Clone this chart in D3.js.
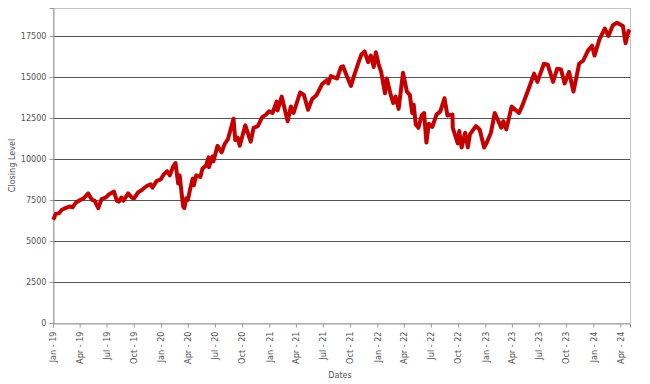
<!DOCTYPE html>
<html>
<head>
<meta charset="utf-8">
<script src="https://cdn.jsdelivr.net/npm/d3@7"></script>
<style>
  body { margin: 0; background: #fff; }
  svg text { font-family: "DejaVu Sans Condensed", "DejaVu Sans", sans-serif; fill: #555; }
</style>
</head>
<body>
<div id="viz"></div>
<script>
const margin = {top: 8, right: 20, bottom: 61, left: 53};
const width = 650;
const height = 384;

// Closing levels
const dates = [
  '2019-01-02','2019-01-10','2019-01-22','2019-01-31','2019-02-12','2019-02-25','2019-03-08','2019-03-20',
  '2019-04-03','2019-04-15','2019-04-30','2019-05-13','2019-05-22','2019-06-03','2019-06-14','2019-06-28',
  '2019-07-10','2019-07-26','2019-08-05','2019-08-12','2019-08-20','2019-08-27','2019-09-12','2019-09-24',
  '2019-10-02','2019-10-15','2019-10-31','2019-11-14','2019-11-27','2019-12-03','2019-12-17','2019-12-31',
  '2020-01-10','2020-01-22','2020-01-31','2020-02-10','2020-02-19','2020-02-28','2020-03-04','2020-03-12',
  '2020-03-16','2020-03-20','2020-03-26','2020-04-01','2020-04-09','2020-04-17','2020-04-21','2020-04-29',
  '2020-05-13','2020-05-20','2020-06-01','2020-06-10','2020-06-11','2020-06-23','2020-06-26','2020-07-10',
  '2020-07-24','2020-08-03','2020-08-14','2020-08-28','2020-09-02','2020-09-08','2020-09-16','2020-09-23',
  '2020-10-12','2020-10-30','2020-11-09','2020-11-23','2020-12-08','2020-12-21','2020-12-31','2021-01-12',
  '2021-01-26','2021-01-29','2021-02-12','2021-03-04','2021-03-15','2021-03-24','2021-04-15','2021-04-28',
  '2021-05-12','2021-05-26','2021-06-10','2021-06-28','2021-07-14','2021-07-19','2021-07-28','2021-08-18',
  '2021-08-31','2021-09-07','2021-09-20','2021-10-04','2021-10-14','2021-10-29','2021-11-08','2021-11-19',
  '2021-12-01','2021-12-10','2021-12-20','2021-12-27','2022-01-05','2022-01-14','2022-01-27','2022-02-02',
  '2022-02-14','2022-02-24','2022-03-04','2022-03-14','2022-03-29','2022-04-11','2022-04-21','2022-04-29',
  '2022-05-04','2022-05-11','2022-05-20','2022-05-31','2022-06-08','2022-06-16','2022-06-24','2022-07-06',
  '2022-07-20','2022-08-02','2022-08-16','2022-08-26','2022-09-12','2022-09-13','2022-09-30','2022-10-05',
  '2022-10-13','2022-10-25','2022-11-03','2022-11-10','2022-11-30','2022-12-13','2022-12-28','2023-01-06',
  '2023-01-20','2023-02-02','2023-02-24','2023-03-03','2023-03-13','2023-03-31','2023-04-25','2023-05-05',
  '2023-05-26','2023-06-15','2023-06-26','2023-07-18','2023-07-31','2023-08-18','2023-09-01','2023-09-14',
  '2023-09-26','2023-10-11','2023-10-26','2023-11-14','2023-11-28','2023-12-14','2023-12-28','2024-01-05',
  '2024-01-22','2024-02-09','2024-02-21','2024-03-07','2024-03-21','2024-04-10','2024-04-19','2024-04-29',
  '2024-05-03'
];
const closes = [
  6300, 6650, 6700, 6900, 7000, 7100, 7050, 7350,
  7500, 7600, 7900, 7500, 7450, 7000, 7550, 7650,
  7850, 8010, 7450, 7400, 7650, 7450, 7900, 7650,
  7600, 7950, 8150, 8350, 8450, 8250, 8650, 8750,
  9050, 9250, 9000, 9500, 9750, 8500, 9000, 7700,
  7100, 7000, 7600, 7500, 8200, 8800, 8400, 9000,
  8900, 9400, 9600, 10100, 9500, 10150, 9850, 10800,
  10400, 10900, 11200, 12100, 12450, 11150, 11300, 10800,
  12050, 11050, 11900, 12000, 12550, 12700, 12900, 12800,
  13500, 12950, 13800, 12300, 13200, 12800, 14050, 13900,
  13000, 13650, 13900, 14550, 14800, 14600, 15050, 14900,
  15600, 15650, 15050, 14450, 15050, 15850, 16350, 16550,
  15900, 16300, 15600, 16500, 15800, 15300, 14000, 14900,
  14000, 13400, 13800, 13050, 15250, 14100, 13900, 12800,
  13300, 12100, 11900, 12650, 12800, 11000, 12150, 11950,
  12700, 12900, 13700, 12650, 12700, 11900, 10950, 11700,
  10700, 11600, 10700, 11500, 12000, 11800, 10700, 11000,
  11600, 12800, 11900, 12300, 11800, 13200, 12800, 13200,
  14200, 15200, 14700, 15800, 15750, 14700, 15500, 15450,
  14600, 15300, 14100, 15800, 16000, 16600, 16900, 16300,
  17300, 17950, 17500, 18150, 18300, 18100, 17050, 17800,
  17700
];
const yTicks = [0, 2500, 5000, 7500, 10000, 12500, 15000, 17500];

const parse = d3.timeParse('%Y-%m-%d');
const series = dates.map((d, i) => ({date: parse(d), close: closes[i]}));

const x = d3.scaleTime()
  .domain([new Date(2019, 0, 1), new Date(2024, 4, 4)])
  .range([margin.left, width - margin.right]);
const y = d3.scaleLinear()
  .domain([0, 19200])
  .range([height - margin.bottom, margin.top]);

const svg = d3.select('#viz')
  .append('svg')
    .attr('width', width)
    .attr('height', height);

// plot frame
svg.append('rect')
  .attr('x', margin.left + 0.5)
  .attr('y', margin.top + 0.5)
  .attr('width', width - margin.right - margin.left)
  .attr('height', height - margin.bottom - margin.top)
  .attr('fill', 'none')
  .attr('stroke', '#c4c4c4');

// grid lines
svg.append('g')
  .selectAll('line')
  .data(yTicks.filter(d => d > 0))
  .join('line')
    .attr('x1', margin.left)
    .attr('x2', width - margin.right)
    .attr('y1', d => Math.round(y(d)) + 0.5)
    .attr('y2', d => Math.round(y(d)) + 0.5)
    .attr('stroke', '#555')
    .attr('stroke-width', 1.2);

// y axis
const yAxis = svg.append('g')
  .attr('transform', `translate(${margin.left + 0.5},0)`)
  .call(d3.axisLeft(y).tickValues(yTicks).tickFormat(d3.format('d')).tickSize(4).tickPadding(3));
yAxis.select('.domain').attr('stroke', '#999');
yAxis.selectAll('.tick line').attr('stroke', '#999');
yAxis.selectAll('text').style('font-size', '9px').attr('fill', '#555');

// x axis
const xAxis = svg.append('g')
  .attr('transform', `translate(0,${height - margin.bottom + 0.5})`)
  .call(d3.axisBottom(x)
    .ticks(d3.timeMonth.every(3))
    .tickFormat(d3.timeFormat('%b - %y'))
    .tickSize(4));
xAxis.select('.domain').attr('stroke', '#999');
xAxis.selectAll('.tick line').attr('stroke', '#999');
xAxis.selectAll('text')
  .style('font-size', '9px')
  .attr('fill', '#555')
  .attr('text-anchor', 'end')
  .attr('transform', 'rotate(-90)')
  .attr('x', -8)
  .attr('y', 0)
  .attr('dy', '0.32em');

// axis titles
svg.append('text')
  .attr('x', width / 2 + 15)
  .attr('y', 378)
  .attr('text-anchor', 'middle')
  .style('font-size', '9px')
  .text('Dates');

svg.append('text')
  .attr('transform', `translate(15,${(margin.top + height - margin.bottom) / 2}) rotate(-90)`)
  .attr('text-anchor', 'middle')
  .style('font-size', '9px')
  .text('Closing Level');

// closing line
const line = d3.line()
  .x(d => x(d.date))
  .y(d => y(d.close));

svg.append('path')
  .datum(series)
  .attr('d', line)
  .attr('fill', 'none')
  .attr('stroke', '#c40000')
  .attr('stroke-width', 4)
  .attr('stroke-linejoin', 'round');
</script>
</body>
</html>
